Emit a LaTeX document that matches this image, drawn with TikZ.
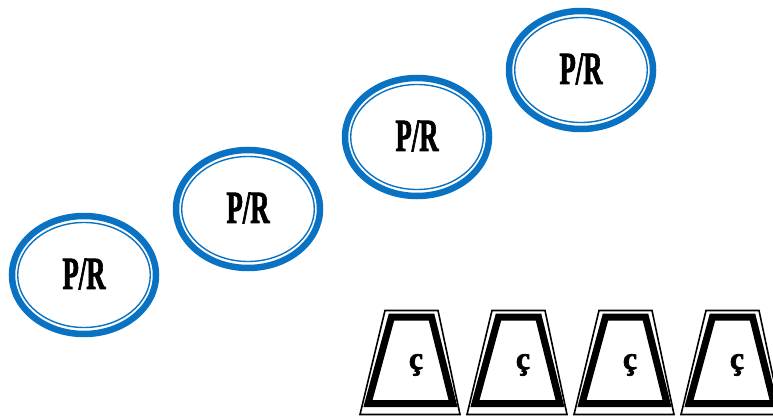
\documentclass[tikz,border=0pt]{standalone}
\usepackage{fontspec}
\setmainfont{Liberation Serif}
\newfontfamily\heavyserif[FakeBold=2.2]{Liberation Serif Bold}
\usetikzlibrary{shapes.geometric,calc}
\definecolor{ringblue}{RGB}{10,114,194}
\tikzset{
  ringouter/.style={ellipse, draw=ringblue, line width=6.5pt, minimum width=144pt, minimum height=118pt, inner sep=0pt, fill=white},
  ringinner/.style={draw=ringblue, line width=1.4pt},
  prlabel/.style={inner sep=0pt, font=\fontsize{46}{46}\heavyserif, text=black},
  trapthin/.style={draw=black, line width=1.6pt, line join=miter},
  trapthick/.style={draw=black, line width=7pt, line join=miter},
  glyph/.style={inner sep=0pt, font=\fontsize{32}{32}\heavyserif}
}
\begin{document}
\begin{tikzpicture}[x=1pt,y=-1pt]
\useasboundingbox (0,0) rectangle (773,417);
\clip (0,0) rectangle (773,417);
% ellipses
\foreach \n/\cx/\cy in {e1/84/275, e2/248/209, e3/417/137, e4/581/70}{
  \node[ringouter] (\n) at (\cx,\cy) {};
  \draw[ringinner] (\n.center) ellipse [x radius=66.3pt, y radius=52.5pt];
  \node[prlabel] (\n-t) at ($(\n.center)+(0,-1)$) {\scalebox{0.58}[1]{P/R}};
}
% trapezoids
\foreach \i in {0,1,2,3}{
  \begin{scope}[xshift=107*\i pt]
    \coordinate (t\i) at (411,362);
    \draw[trapthin] ($(t\i)+(-26,-51.5)$) -- ($(t\i)+(27,-51.5)$) -- ($(t\i)+(49,52.5)$) -- ($(t\i)+(-51,52.5)$) -- cycle;
    \draw[trapthick] ($(t\i)+(-19.5,-45)$) -- ($(t\i)+(20.5,-45)$) -- ($(t\i)+(42,41.5)$) -- ($(t\i)+(-43,41.5)$) -- cycle;
    \node[glyph] (g\i) at ($(t\i)+(5,3)$) {ç};
  \end{scope}
}
\end{tikzpicture}
\end{document}
